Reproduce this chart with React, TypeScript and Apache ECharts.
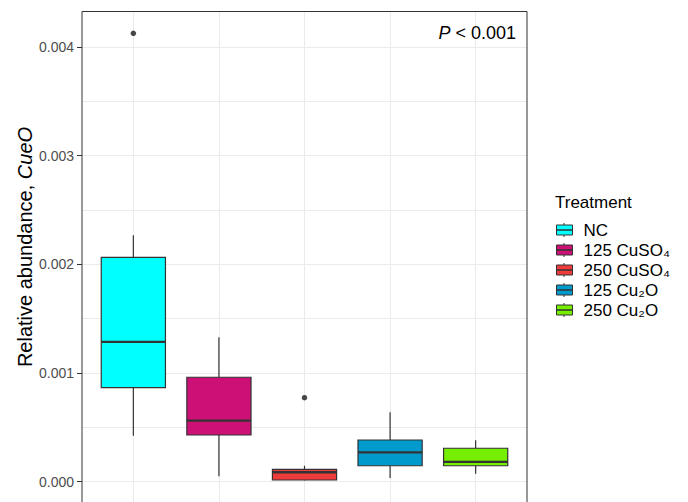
import React, { useEffect, useRef } from "react";
import * as echarts from "echarts";

const categories = ["NC", "125 CuSO4", "250 CuSO4", "125 Cu2O", "250 Cu2O"];
const legendLabels = ["NC", "125 CuSO\u2084", "250 CuSO\u2084", "125 Cu\u2082O", "250 Cu\u2082O"];
const colors = ["#00FFFF", "#CD1076", "#EE3B3B", "#009ACD", "#76EE00"];
const xPositions = [1, 2, 3, 4, 5];
const whiskerLow = [0.000422, 0.000048, 0.00001, 0.000032, 0.000072];
const q1 = [0.000864, 0.000428, 0.000014, 0.000145, 0.000145];
const median = [0.001285, 0.00056, 0.000085, 0.000269, 0.00018];
const q3 = [0.002064, 0.00096, 0.000112, 0.000382, 0.000306];
const whiskerHigh = [0.002267, 0.001328, 0.000145, 0.000637, 0.000379];
const outlierX = [1, 3];
const outlierY = [0.004127, 0.000772];
const yTickValues = [0, 0.001, 0.002, 0.003, 0.004];

const FONT = "'Liberation Sans', Arial, Helvetica, sans-serif";

export default function App() {
  const ref = useRef<HTMLDivElement>(null);
  useEffect(() => {
    if (!ref.current) return;
    const chart = echarts.init(ref.current, null, { renderer: "svg" });

    const boxSeries = categories.map((name, i) => ({
      name,
      type: "custom",
      xAxisIndex: 1,
      yAxisIndex: 1,
      z: 3,
      itemStyle: { color: colors[i], borderColor: "#333333", borderWidth: 1 },
      data: [[xPositions[i], whiskerLow[i], q1[i], median[i], q3[i], whiskerHigh[i]]],
      renderItem: (params: any, api: any) => {
        const x = api.value(0);
        const pMin = api.coord([x, api.value(1)]);
        const pQ1 = api.coord([x, api.value(2)]);
        const pMed = api.coord([x, api.value(3)]);
        const pQ3 = api.coord([x, api.value(4)]);
        const pMax = api.coord([x, api.value(5)]);
        const half = api.size([0.75, 0])[0] / 2;
        const cx = pMed[0];
        const stroke = "#333333";
        return {
          type: "group",
          children: [
            { type: "line", shape: { x1: cx, y1: pMin[1], x2: cx, y2: pQ1[1] }, style: { stroke, lineWidth: 1.2 } },
            { type: "line", shape: { x1: cx, y1: pQ3[1], x2: cx, y2: pMax[1] }, style: { stroke, lineWidth: 1.2 } },
            {
              type: "rect",
              shape: { x: cx - half, y: pQ3[1], width: half * 2, height: pQ1[1] - pQ3[1] },
              style: { fill: colors[params.seriesIndex], stroke, lineWidth: 1.2 },
            },
            { type: "line", shape: { x1: cx - half, y1: pMed[1], x2: cx + half, y2: pMed[1] }, style: { stroke, lineWidth: 2.3 } },
          ],
        };
      },
    }));

    const legendCenterY0 = 230;
    const legendGap = 20;
    const legendGraphics: any[] = [];
    categories.forEach((_, i) => {
      const cy = legendCenterY0 + legendGap * i;
      legendGraphics.push({
        type: "line", z: 100,
        shape: { x1: 556, y1: cy, x2: 572, y2: cy },
        style: { stroke: "#333333", lineWidth: 1.5 },
      });
      legendGraphics.push({
        type: "line", z: 100,
        shape: { x1: 564, y1: cy - 7, x2: 564, y2: cy - 5 },
        style: { stroke: "#333333", lineWidth: 1 },
      });
      legendGraphics.push({
        type: "line", z: 100,
        shape: { x1: 564, y1: cy + 5, x2: 564, y2: cy + 7 },
        style: { stroke: "#333333", lineWidth: 1 },
      });
    });

    const option: any = {
      animation: false,
      backgroundColor: "#ffffff",
      textStyle: { fontFamily: FONT },
      grid: [
        { left: 82, top: 11.5, width: 445, height: 492, show: true, borderColor: "#333333", borderWidth: 1, backgroundColor: "transparent", z: 5, outerBoundsMode: "none", containLabel: false },
        { left: 82, top: -61.5, width: 445, height: 651.6, outerBoundsMode: "none", containLabel: false },
      ],
      xAxis: [
        {
          gridIndex: 0, type: "value", min: 0.4, max: 5.6,
          axisLine: { show: false }, axisTick: { show: false }, axisLabel: { show: false },
          splitLine: { show: true, showMinLine: false, showMaxLine: false, lineStyle: { color: "#ebebeb", width: 1 } },
        },
        { gridIndex: 1, type: "value", min: 0.4, max: 5.6, show: false },
      ],
      yAxis: [
        { gridIndex: 0, type: "value", min: 0, max: 1, show: false },
        {
          gridIndex: 1, type: "value", min: -0.001, max: 0.005, interval: 0.001,
          axisLine: { show: false },
          axisTick: { show: true, length: 5, lineStyle: { color: "#333333", width: 1 } },
          axisLabel: {
            color: "#4d4d4d", fontSize: 14, margin: 8, fontFamily: FONT,
            formatter: (v: number) => {
              const hit = yTickValues.find((t) => Math.abs(t - v) < 1e-9);
              return hit === undefined ? "" : hit.toFixed(3);
            },
          },
          splitLine: { show: true, lineStyle: { color: "#ebebeb", width: 1 } },
          minorTick: { show: false, splitNumber: 2 },
          minorSplitLine: { show: true, lineStyle: { color: "#ebebeb", width: 1 } },
        },
      ],
      legend: {
        data: categories,
        orient: "vertical",
        left: 556,
        top: legendCenterY0 - 9,
        padding: 0,
        itemWidth: 16,
        itemHeight: 10,
        itemGap: 2,
        icon: "rect",
        itemStyle: { borderColor: "#333333", borderWidth: 1 },
        formatter: (name: string) => legendLabels[categories.indexOf(name)],
        textStyle: {
          color: "#000000", fontSize: 17, lineHeight: 18, fontFamily: FONT, padding: [0, 0, 0, 6],
        },
        selectedMode: false,
      },
      graphic: [
        {
          type: "text", x: 25, y: 247, rotation: Math.PI / 2, z: 100,
          style: {
            text: "{n|Relative abundance, }{i|CueO}",
            align: "center", verticalAlign: "middle",
            fill: "#000000", fontSize: 20, fontFamily: FONT,
            rich: {
              n: { fontSize: 20, fontFamily: FONT, fill: "#000000" },
              i: { fontSize: 20, fontFamily: FONT, fontStyle: "italic", fill: "#000000" },
            },
          },
        },
        {
          type: "text", x: 516, y: 33, z: 100,
          style: {
            text: "{i|P}{n| < 0.001}",
            align: "right", verticalAlign: "middle",
            fill: "#000000", fontSize: 18, fontFamily: FONT,
            rich: {
              n: { fontSize: 18, fontFamily: FONT, fill: "#000000" },
              i: { fontSize: 18, fontFamily: FONT, fontStyle: "italic", fill: "#000000" },
            },
          },
        },
        {
          type: "text", x: 555, y: 202, z: 100,
          style: {
            text: "Treatment", align: "left", verticalAlign: "middle",
            fill: "#000000", fontSize: 17, fontFamily: FONT,
          },
        },
        ...legendGraphics,
      ],
      series: [
        ...boxSeries,
        {
          name: "outliers",
          type: "scatter",
          xAxisIndex: 1,
          yAxisIndex: 1,
          z: 4,
          symbol: "circle",
          symbolSize: 5.5,
          itemStyle: { color: "#1a1a1a" },
          data: outlierX.map((x, i) => [x, outlierY[i]]),
        },
      ],
    };
    chart.setOption(option);
    return () => chart.dispose();
  }, []);
  return <div ref={ref} style={{ position: "fixed", left: 0, top: 0, width: 688, height: 502 }} />;
}
